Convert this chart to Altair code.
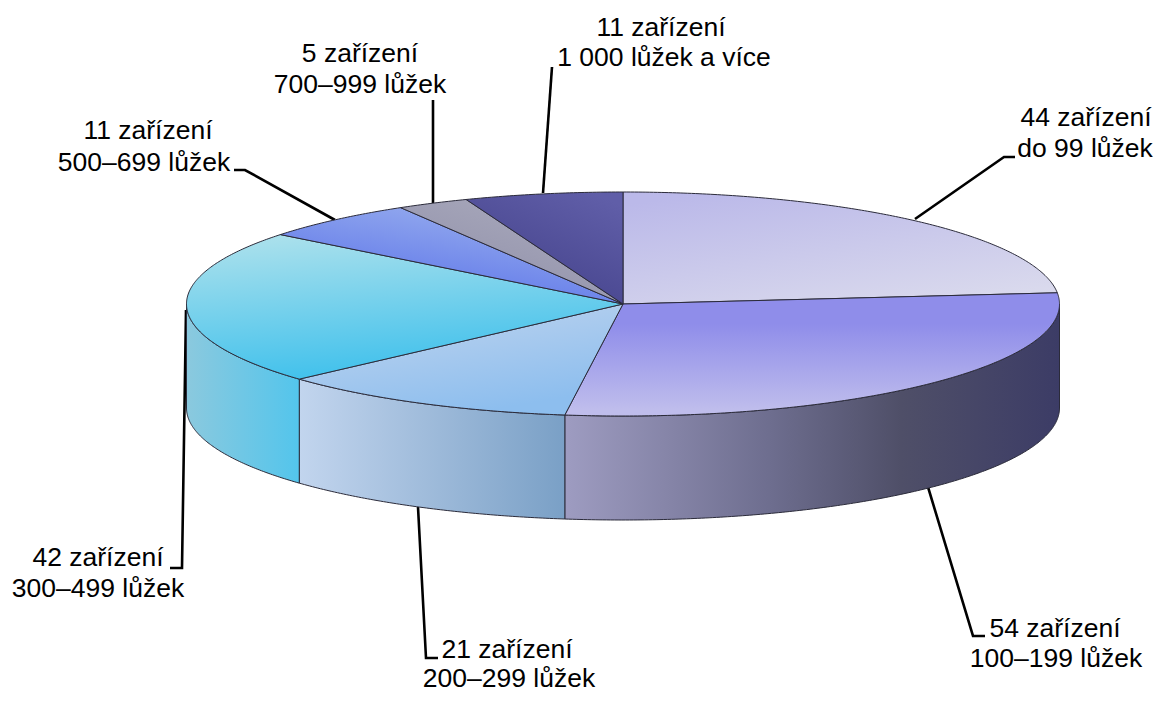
import math
import altair as alt
import pandas as pd

# --- values ---
counts = [44, 54, 21, 42, 11, 5, 11]

label_text = ["44 zařízení", "do 99 lůžek", "54 zařízení", "100–199 lůžek",
              "21 zařízení", "200–299 lůžek", "42 zařízení", "300–499 lůžek",
              "11 zařízení", "500–699 lůžek", "5 zařízení", "700–999 lůžek",
              "11 zařízení", "1 000 lůžek a více"]
label_x = [1086, 1085, 1055, 1056, 507, 509, 98, 98, 148, 144, 360, 360, 661, 664]
label_y = [118, 149, 629, 659, 650, 679, 558, 589, 131, 163, 54, 85, 28, 58]

leader_x = [[915, 1004, 1015], [928, 973, 985], [418, 426, 438], [186, 182, 170],
            [335, 245, 234], [433, 433], [543, 552]]
leader_y = [[219, 157, 157], [487, 636, 636], [507, 658, 658], [310, 568, 568],
            [220, 170, 170], [203, 100], [193, 67]]

top_grad = [
    ((0.2, 0.0, 0.8, 1.0), ["#bbb9e9", "#dadaed"], [0, 1]),
    ((0.5, 0.0, 0.5, 1.0), ["#8f8dea", "#8f8dea", "#bfbdec"], [0, 0.25, 0.95]),
    ((0.0, 0.0, 0.5, 1.0), ["#c4d6ee", "#8dbeee"], [0, 1]),
    ((0.3, 0.0, 0.58, 1.0), ["#a9e0ec", "#44c2ec"], [0, 0.9]),
    ((0.65, 0.1, 0.3, 0.7), ["#92a8ee", "#6880ea"], [0, 1]),
    ((0.9, 0.0, 0.2, 1.0), ["#acacbe", "#8e8ea8"], [0, 1]),
    ((0.8, 0.0, 0.3, 0.8), ["#605ea8", "#47458e"], [0, 1]),
]
side_grad = {
    1: (["#9e9cc1", "#6d6d8e", "#4f4f68", "#3c3c66"], [0, 0.42, 0.68, 1]),
    2: (["#c2d5ee", "#7aa0c6"], [0, 1]),
    3: (["#8bc9de", "#53c5ec"], [0, 1]),
}

CX, CY, RX, RY, DEPTH = 623, 304, 436.5, 112, 104
EDGE = "#2b2b3a"
X = alt.X("x:Q", axis=None, scale=alt.Scale(domain=[8, 1155], nice=False, zero=False))
Y = alt.Y("y:Q", axis=None, scale=alt.Scale(domain=[694, 8], nice=False, zero=False))


def ell(deg, dy=0):
    a = math.radians(deg)
    return CX + RX * math.sin(a), CY - RY * math.cos(a) + dy


def arc(a, b, dy=0):
    n = max(2, int(abs(b - a) * 2))
    return [ell(a + (b - a) * k / n, dy) for k in range(n + 1)]


def gradient(box, colors, offsets):
    return dict(gradient="linear", x1=box[0], y1=box[1], x2=box[2], y2=box[3],
                stops=[dict(offset=o, color=c) for o, c in zip(offsets, colors)])


def polygon(pts, fill, width=1.0):
    df = pd.DataFrame(pts, columns=["x", "y"]).reset_index(names="i")
    return alt.Chart(df).mark_line(fill=fill, stroke=EDGE, strokeWidth=width,
                                   strokeJoin="round", clip=False).encode(
        x=X, y=Y, order="i:O")


total = sum(counts)
edges = [0]
for c in counts:
    edges.append(edges[-1] + c / total * 360)

layers = []
# leader lines
for lx, ly in zip(leader_x, leader_y):
    df = pd.DataFrame({"x": lx, "y": ly}).reset_index(names="i")
    layers.append(alt.Chart(df).mark_line(color="black", strokeWidth=2.6).encode(x=X, y=Y, order="i:O"))

# side walls (visible between 90 and 270 degrees); colours run left to right on screen
for idx, (colors, offsets) in side_grad.items():
    a, b = max(edges[idx], 90), min(edges[idx + 1], 270)
    front = arc(a, b)
    back = arc(b, a, DEPTH)
    pts = front + back + front[:1]
    layers.append(polygon(pts, gradient((0, 0, 1, 0), colors, offsets)))

# top face
for idx, (box, colors, offsets) in enumerate(top_grad):
    pts = [(CX, CY)] + arc(edges[idx], edges[idx + 1]) + [(CX, CY)]
    layers.append(polygon(pts, gradient(box, colors, offsets)))

# labels
labels = pd.DataFrame({"x": label_x, "y": label_y, "t": label_text})
layers.append(alt.Chart(labels).mark_text(font="Liberation Sans", fontSize=26.5, color="black",
                                          align="center", baseline="middle").encode(x=X, y=Y, text="t:N"))

chart = alt.layer(*layers).properties(
    width=1147, height=686, padding=0, autosize=alt.AutoSizeParams(type="none"), background="white"
).configure_view(stroke=None)

chart.save("out.html", embed_options={"renderer": "svg", "actions": False})
